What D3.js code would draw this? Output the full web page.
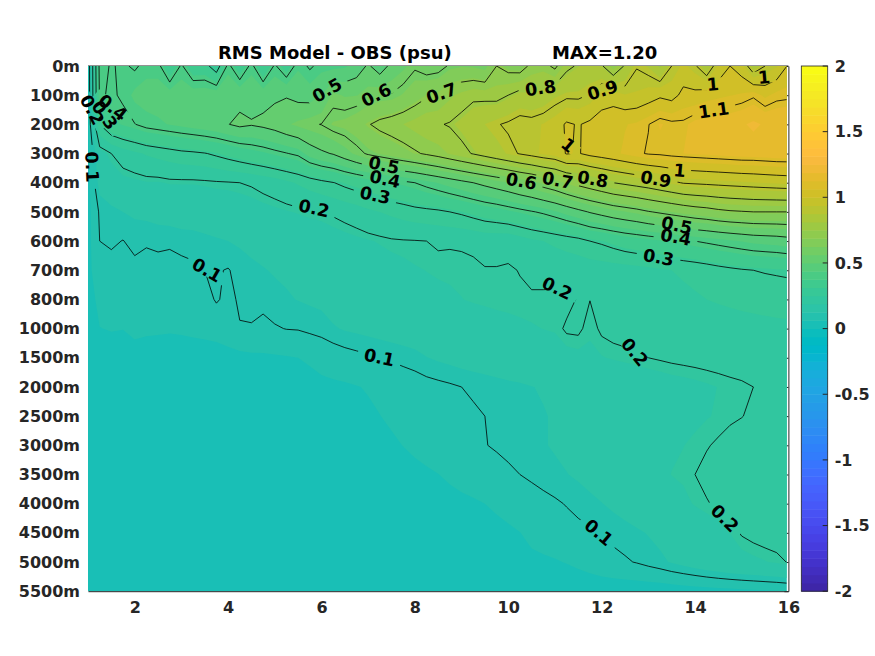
<!DOCTYPE html>
<html>
<head>
<meta charset="utf-8">
<script src="https://cdnjs.cloudflare.com/ajax/libs/d3/7.8.5/d3.min.js"></script>
<style>
  html, body { margin: 0; background: #fff; }
  text { font-family: "DejaVu Sans", sans-serif; font-weight: bold; }
  .tick text { font-size: 16px; fill: #262626; }
  .clabel { font-size: 17.5px; fill: #000; }
</style>
</head>
<body>
<svg id="chart" width="875" height="656"></svg>
<script>
const depths = ["0m","100m","200m","300m","400m","500m","600m","700m","800m","1000m","1500m","2000m","2500m","3000m","3500m","4000m","4500m","5000m","5500m"]
const xTicks = [2,4,6,8,10,12,14,16]
const barTicks = [-2,-1.5,-1,-0.5,0,0.5,1,1.5,2]
const levels = [0.1,0.2,0.3,0.4,0.5,0.6,0.7,0.8,0.9,1,1.1]
// section stations, one every quarter unit
const stations = d3.range(1, 16.01, 0.25)

// rms: one row per depth, one value per station
const rms = [
 [.05,.42,.395,.41,.39,.42,.42,.32,.41,.33, .33,.25,.42,.33,.42,.31,.41,.34,.43,.39, .42,.42,.43,.46,.51,.46,.52,.55,.59,.56, .57,.61,.62,.617,.6,.70,.67,.66,.72,.73, .68,.78,.81,.83,.81,.72,.81,.895,.87,.8, .9,.95,.91,.83,.95,1.0,.96,.84,.9,.93,1.01],
 [.05,.41,.39,.41,.45,.46,.46,.465,.47,.47, .475,.475,.48,.479,.476,.476,.488,.494,.475,.468, .5,.576,.557,.56,.585,.6,.605,.63,.66,.69, .70,.74,.765,.785,.78,.775,.80,.83,.82,.834, .866,.885,.885,.905,.958,.968,.94,.944,.963,.987, .973,1.02,1.02,1.04,1.05,1.06,1.07,1.09,1.05,1.08,1.085],
 [.05,.3,.36,.38,.398,.42,.43,.44,.45,.46, .47,.48,.498,.515,.505,.515,.53,.555,.575,.59, .602,.63,.64,.665,.695,.72,.735,.75,.77,.79, .795,.805,.825,.85,.875,.895,.91,.93,.925,.94, .965,1.01,.995,1.015,1.04,1.05,1.06,1.07,1.098,1.129, 1.115,1.113,1.142,1.149,1.16,1.165,1.179,1.2,1.18,1.18,1.19],
 [.05,.17,.2,.225,.24,.255,.265,.275,.285,.29, .297,.31,.325,.34,.355,.367,.383,.397,.412,.46, .487,.505,.54,.575,.61,.63,.65,.67,.69,.71, .73,.755,.78,.805,.83,.855,.88,.905,.925,.945, .96,1.005,.995,1.02,1.035,1.05,1.07,1.09,1.105,1.11, 1.12,1.125,1.13,1.135,1.14,1.145,1.15,1.15,1.155,1.16,1.16],
 [.05,.14,.16,.175,.18,.185,.185,.19,.19,.19, .192,.195,.197,.2,.205,.215,.225,.24,.255,.27, .285,.298,.315,.33,.345,.36,.375,.385,.4,.42, .44,.46,.48,.5,.52,.54,.56,.585,.605,.635, .66,.695,.725,.75,.775,.8,.815,.83,.845,.865, .885,.905,.91,.915,.92,.925,.93,.935,.94,.945,.95],
 [.05,.105,.115,.125,.13,.135,.14,.145,.15,.15, .155,.16,.16,.165,.17,.175,.18,.185,.19,.195, .198,.206,.215,.225,.24,.25,.26,.27,.28,.285, .29,.3,.31,.325,.34,.35,.365,.38,.395,.41, .43,.455,.48,.505,.525,.545,.56,.575,.595,.61, .625,.64,.655,.665,.68,.69,.695,.7,.7,.7,.7],
 [.05,.1,.105,.099,.11,.103,.106,.104,.108,.11, .115,.12,.125,.13,.135,.14,.145,.15,.155,.16, .165,.17,.175,.18,.185,.19,.195,.197,.198,.2, .205,.204,.2045,.207,.214,.214,.21,.225,.24,.25, .26,.27,.28,.3,.31,.325,.34,.35,.36,.37, .38,.39,.4,.41,.42,.43,.44,.45,.455,.46,.47],
 [.05,.09,.088,.088,.09,.09,.09,.09,.092,.095, .1,.103,.098,.11,.118,.123,.128,.13,.135,.14, .145,.15,.155,.16,.165,.17,.175,.18,.185,.188, .19,.19,.192,.194,.198,.198,.197,.201,.206,.21, .213,.215,.218,.22,.222,.225,.228,.232,.238,.244, .25,.256,.262,.27,.28,.288,.295,.3,.304,.307,.31],
 [.05,.07,.075,.075,.078,.08,.08,.08,.082,.084, .085,.104,.09,.105,.108,.11,.116,.122,.126,.13, .133,.14,.146,.15,.155,.16,.165,.17,.174,.178, .182,.185,.187,.19,.192,.194,.195,.196,.197,.195, .193,.19,.203,.2005,.21,.215,.22,.224,.228,.232, .236,.24,.245,.25,.254,.258,.262,.265,.268,.27,.272],
 [.05,.062,.064,.063,.07,.067,.066,.065,.066,.068, .07,.073,.08,.098,.098,.09,.097,.101,.102,.107, .112,.122,.128,.132,.136,.14,.144,.148,.152,.156, .16,.163,.167,.17,.173,.176,.179,.182,.185,.188, .19,.205,.206,.19,.205,.21,.212,.214,.216,.218, .22,.222,.224,.226,.228,.23,.232,.234,.236,.238,.24],
 [.05,.05,.05,.05,.05,.05,.05,.05,.05,.05, .05,.05,.052,.052,.055,.057,.058,.06,.0625,.066, .072,.078,.085,.09,.095,.1,.104,.109,.114,.124, .13,.135,.14,.144,.148,.152,.156,.16,.164,.168, .172,.176,.18,.184,.186,.19,.193,.196,.2,.203, .206,.208,.21,.212,.214,.216,.218,.22,.222,.223,.224],
 [.045,.045,.045,.045,.045,.045,.045,.045,.045,.045, .045,.045,.048,.048,.05,.05,.052,.052,.054,.054, .056,.057,.058,.061,.065,.07,.075,.079,.083,.087, .091,.095,.1,.104,.108,.112,.116,.119,.124,.128, .132,.137,.142,.146,.15,.155,.159,.163,.167,.17, .174,.177,.18,.184,.188,.192,.195,.2,.205,.21,.213],
 [.04,.04,.04,.04,.04,.04,.04,.04,.04,.04, .04,.04,.04,.04,.04,.04,.04,.04,.04,.04, .045,.047,.05,.053,.057,.062,.067,.072,.077,.082, .086,.09,.093,.096,.1,.104,.109,.113,.118,.123, .128,.133,.138,.143,.148,.153,.158,.162,.166,.17, .174,.178,.182,.186,.19,.195,.199,.206,.212,.216,.22],
 [.04,.04,.04,.04,.04,.04,.04,.04,.04,.04, .04,.04,.04,.04,.04,.04,.04,.04,.04,.04, .042,.044,.046,.048,.05,.054,.058,.063,.068,.074, .08,.086,.092,.096,.099,.103,.107,.112,.117,.123, .128,.134,.14,.146,.152,.158,.164,.17,.176,.18, .184,.187,.192,.198,.204,.211,.217,.221,.225,.227,.229],
 [.04,.04,.04,.04,.04,.04,.04,.04,.04,.04, .04,.04,.04,.04,.04,.04,.04,.04,.04,.04, .041,.042,.043,.044,.045,.046,.048,.05,.055,.058, .062,.068,.074,.08,.086,.09,.095,.1,.106,.112, .119,.124,.13,.136,.143,.15,.158,.166,.175,.182, .188,.192,.2,.208,.214,.219,.223,.226,.228,.23,.23],
 [.04,.04,.04,.04,.04,.04,.04,.04,.04,.04, .04,.04,.04,.04,.04,.04,.04,.04,.04,.04, .04,.041,.042,.043,.044,.045,.046,.047,.048,.049, .05,.052,.055,.058,.0625,.067,.072,.078,.084,.09, .095,.102,.11,.118,.124,.132,.14,.148,.156,.164, .172,.18,.19,.198,.205,.212,.217,.22,.222,.223,.224],
 [.04,.04,.04,.04,.04,.04,.04,.04,.04,.04, .04,.04,.04,.04,.04,.04,.04,.04,.04,.04, .04,.04,.04,.041,.041,.042,.042,.043,.043,.044, .045,.046,.048,.05,.052,.055,.058,.062,.07,.075, .08,.085,.09,.095,.1,.108,.114,.12,.127,.135, .142,.15,.158,.166,.174,.188,.203,.21,.215,.217,.218],
 [.035,.035,.035,.035,.035,.035,.035,.035,.035,.035, .035,.035,.035,.035,.035,.035,.035,.035,.035,.035, .036,.036,.037,.037,.038,.038,.039,.039,.04,.04, .04,.042,.044,.046,.048,.05,.052,.054,.056,.058, .06,.064,.07,.077,.085,.091,.096,.102,.11,.118, .128,.137,.146,.155,.163,.17,.176,.181,.186,.192,.202],
 [.03,.03,.03,.03,.03,.03,.03,.03,.03,.03, .03,.03,.03,.03,.03,.03,.03,.03,.03,.03, .03,.03,.03,.03,.03,.03,.03,.03,.03,.03, .03,.03,.032,.032,.033,.033,.034,.034,.035,.036, .038,.038,.039,.039,.04,.04,.04,.04,.04,.04, .042,.044,.046,.048,.05,.052,.054,.056,.058,.06,.062]
]

// colormap, 64 steps from -2 to 2
const colormap = [
 [.2422,.1504,.6603],[.2504,.1650,.7076],[.2578,.1818,.7511],[.2647,.1978,.7952],[.2706,.2147,.8364],[.2751,.2342,.8710],[.2783,.2559,.8991],[.2803,.2782,.9221],
 [.2813,.3006,.9414],[.2810,.3228,.9579],[.2795,.3447,.9717],[.2760,.3667,.9829],[.2699,.3892,.9906],[.2602,.4123,.9952],[.2440,.4358,.9988],[.2206,.4603,.9973],
 [.1963,.4847,.9892],[.1834,.5074,.9798],[.1786,.5289,.9682],[.1764,.5499,.9520],[.1687,.5703,.9359],[.1540,.5902,.9218],[.1460,.6091,.9079],[.1380,.6276,.8973],
 [.1248,.6459,.8883],[.1113,.6635,.8763],[.0952,.6798,.8598],[.0689,.6948,.8394],[.0297,.7082,.8163],[.0036,.7203,.7917],[.0067,.7312,.7660],[.0433,.7411,.7394],
 [.0964,.7500,.7120],[.1408,.7584,.6842],[.1717,.7670,.6554],[.1938,.7758,.6251],[.2161,.7843,.5923],[.2470,.7918,.5567],[.2906,.7973,.5188],[.3406,.8008,.4789],
 [.3909,.8029,.4354],[.4456,.8024,.3909],[.5044,.7993,.3480],[.5616,.7942,.3045],[.6174,.7876,.2612],[.6720,.7793,.2227],[.7242,.7698,.1910],[.7738,.7598,.1646],
 [.8203,.7498,.1535],[.8634,.7406,.1596],[.9035,.7330,.1774],[.9393,.7288,.2100],[.9728,.7298,.2394],[.9956,.7434,.2371],[.9970,.7659,.2199],[.9952,.7893,.2028],
 [.9892,.8136,.1885],[.9786,.8386,.1766],[.9676,.8639,.1643],[.9610,.8890,.1537],[.9597,.9135,.1423],[.9628,.9373,.1265],[.9691,.9606,.1064],[.9769,.9839,.0805]
].map(c => d3.rgb(c[0] * 255, c[1] * 255, c[2] * 255).formatHex())

// clabel text: text, station, depth row, angle
const labelTexts = ["0.5","0.6","0.7","0.8","0.9","1","1","1.1","1","0.5","0.4","0.3","0.2","0.6","0.7","0.8","0.9","1","0.5","0.4","0.3","0.2","0.1","0.1","0.2","0.1","0.2","0.4","0.3","0.2","0.1"]
const labelX = [6.12,7.17,8.57,10.69,12.02,14.38,15.48,14.4,11.29,7.34,7.36,7.15,5.84,10.28,11.06,11.81,13.16,13.67,13.61,13.59,13.22,11.05,3.55,7.24,12.71,11.94,14.64,1.53,1.36,1.09,1.09]
const labelRow = [.82,.99,.93,.75,.82,.62,.38,1.51,2.71,3.39,3.87,4.42,4.87,3.94,3.91,3.87,3.87,3.57,5.45,5.86,6.55,7.61,6.99,9.98,9.8,15.98,15.5,1.42,1.68,1.5,3.46]
const labelAngle = [-30,-27,-20,-8,-18,-5,-5,-8,40,12,12,12,12,10,10,10,10,5,12,10,10,25,30,12,50,40,45,38,55,62,88]

const svg = d3.select("#chart")

const xScale = d3.scaleLinear().domain([1, 16]).range([88, 788.4])
const yScale = d3.scaleLinear().domain([0, depths.length - 1]).range([66, 591.2])
const colorScale = d3.scaleQuantize().domain([-2, 2]).range(colormap)

const nx = stations.length
const ny = depths.length
const flat = rms.flat()

// contour coordinates sit half a cell off the grid nodes
const toPlot = d3.geoTransform({
  point(x, y) {
    this.stream.point(xScale(1 + (x - 0.5) * 0.25), yScale(y - 0.5))
  }
})
const path = d3.geoPath(toPlot)

const defs = svg.append("defs")
defs.append("clipPath").attr("id", "plotClip")
  .append("rect")
  .attr("x", xScale(1))
  .attr("y", yScale(0))
  .attr("width", xScale(15.96) - xScale(1))
  .attr("height", yScale(ny - 1) - yScale(0))

// box and right ticks go under the image, only the white strip shows them
const rightAxis = d3.axisLeft(yScale).tickValues(d3.range(ny)).tickSize(4).tickSizeOuter(0).tickFormat("")
svg.append("g").attr("transform", `translate(${xScale(16)},0)`).call(rightAxis)
  .call(g => g.selectAll("line").attr("stroke", "#262626"))
  .call(g => g.select(".domain").attr("stroke", "#262626"))
svg.append("line")
  .attr("x1", xScale(1)).attr("x2", xScale(16))
  .attr("y1", yScale(0)).attr("y2", yScale(0))
  .attr("stroke", "#262626")

const plot = svg.append("g").attr("clip-path", "url(#plotClip)")

// filled bands, painted low to high
const bandEdges = d3.range(0, 64).map(i => -2 + i / 16).filter(t => t <= d3.max(flat) && t >= 0)
plot.selectAll(".band")
  .data(d3.contours().size([nx, ny]).thresholds(bandEdges)(flat))
  .enter()
  .append("path")
  .classed("band", true)
  .attr("d", path)
  .attr("fill", d => colorScale(d.value + 0.001))

// gaps in the lines where the labels sit
const mask = defs.append("mask").attr("id", "labelGaps").attr("maskUnits", "userSpaceOnUse")
  .attr("x", 0).attr("y", 0).attr("width", 875).attr("height", 656)
mask.append("rect").attr("width", 875).attr("height", 656).attr("fill", "#fff")
const gapWidth = d => d.length === 1 ? 23 : 44
mask.selectAll("rect.gap")
  .data(labelTexts)
  .enter()
  .append("rect")
  .classed("gap", true)
  .attr("x", d => -gapWidth(d) / 2)
  .attr("y", -6)
  .attr("width", gapWidth)
  .attr("height", 12)
  .attr("fill", "#000")
  .attr("transform", (d, i) => `translate(${xScale(labelX[i])},${yScale(labelRow[i])}) rotate(${labelAngle[i]})`)

plot.append("g")
  .attr("mask", "url(#labelGaps)")
  .selectAll(".level")
  .data(d3.contours().size([nx, ny]).thresholds(levels)(flat))
  .enter()
  .append("path")
  .classed("level", true)
  .attr("d", path)
  .attr("fill", "none")
  .attr("stroke", "#000")
  .attr("stroke-width", 0.8)

svg.selectAll(".clabel")
  .data(labelTexts)
  .enter()
  .append("text")
  .classed("clabel", true)
  .attr("text-anchor", "middle")
  .attr("dy", "0.36em")
  .attr("transform", (d, i) => `translate(${xScale(labelX[i])},${yScale(labelRow[i])}) rotate(${labelAngle[i]})`)
  .text(d => d)

// axes
const bottomAxis = d3.axisBottom(xScale).tickValues(xTicks).tickSize(0).tickPadding(10).tickFormat(d3.format("d"))
const leftAxis = d3.axisLeft(yScale).tickValues(d3.range(ny)).tickSize(0).tickPadding(8).tickFormat(i => depths[i])

svg.append("g").attr("transform", `translate(0,${yScale(ny - 1)})`).call(bottomAxis)
  .call(g => g.select(".domain").attr("stroke", "#262626"))
svg.append("g").attr("transform", `translate(${xScale(1)},0)`).call(leftAxis)
  .call(g => g.select(".domain").attr("stroke", "none"))

// title
svg.append("text").attr("x", 218).attr("y", 59).attr("font-size", 18).text("RMS Model - OBS (psu)")
svg.append("text").attr("x", 552).attr("y", 59).attr("font-size", 18).text("MAX=1.20")

// colour bar
const barY = d3.scaleLinear().domain([-2, 2]).range([591.2, 66])
const barX = 801.3
const barW = 26.4
svg.selectAll(".barStep")
  .data(colormap)
  .enter()
  .append("rect")
  .classed("barStep", true)
  .attr("x", barX)
  .attr("width", barW)
  .attr("y", (d, i) => barY(-2 + (i + 1) / 16))
  .attr("height", barY(-2) - barY(-2 + 1 / 16) + 0.5)
  .attr("fill", d => d)
svg.append("rect")
  .attr("x", barX).attr("y", 66).attr("width", barW).attr("height", 525.2)
  .attr("fill", "none").attr("stroke", "#262626").attr("stroke-width", 0.8)

const barAxis = d3.axisRight(barY).tickValues(barTicks).tickSize(0).tickPadding(7).tickFormat(d => d)
svg.append("g").attr("transform", `translate(${barX + barW},0)`).call(barAxis)
  .call(g => g.select(".domain").attr("stroke", "none"))
svg.append("g").attr("transform", `translate(${barX + barW},0)`)
  .selectAll("line")
  .data(barTicks)
  .enter()
  .append("line")
  .attr("x1", -5).attr("x2", 0)
  .attr("y1", d => barY(d)).attr("y2", d => barY(d))
  .attr("stroke", "#262626")
</script>
</body>
</html>
